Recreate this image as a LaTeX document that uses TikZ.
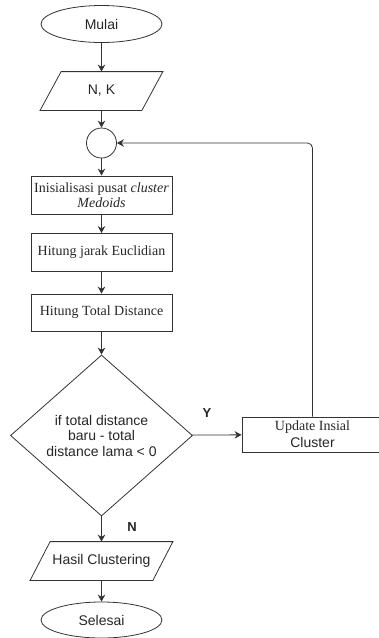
\documentclass[tikz,border=0pt]{standalone}
\usepackage{fontspec}
\setmainfont{Liberation Serif}
\newfontfamily\arialf{Liberation Sans}
\usetikzlibrary{shapes.geometric,arrows.meta}
\begin{document}
\begin{tikzpicture}[x=1pt,y=-1pt,
  line width=0.8pt,
  every node/.style={text=black!85},
  term/.style={draw=black!80, ellipse, minimum width=121, minimum height=37, inner sep=0, font=\arialf\fontsize{14}{16}\selectfont},
  iobox/.style={draw=none, minimum height=38, inner sep=0, font=\arialf\fontsize{14}{16}\selectfont},
  procbox/.style={draw=black!80, rectangle, minimum width=141, inner sep=0, align=center, font=\fontsize{14}{14.5}\selectfont},
  joint/.style={draw=black!80, circle, minimum size=30, inner sep=0},
  decision/.style={draw=black!80, diamond, minimum width=182, minimum height=161, inner sep=0, align=center, font=\arialf\fontsize{14}{15.5}\selectfont},
  lbl/.style={font=\arialf\bfseries\fontsize{13}{15}\selectfont},
  arr/.style={draw=black!80, -{Stealth[length=7, width=7.5]}}
]
\useasboundingbox (0,0) rectangle (379,638);
\clip (0,0) rectangle (379,638);

\node[term] (start) at (101.5,24) {Mulai};
\node[iobox, minimum width=101] (nk) at (101.5,91) {N, K};
\draw[draw=black!80] ([xshift=10.5]nk.north west) -- ([xshift=10.5]nk.north east)
  -- ([xshift=-10.5]nk.south east) -- ([xshift=-10.5]nk.south west) -- cycle;
\node[joint] (jn) at (101.5,143) {};
\node[procbox, minimum height=38] (init) at (101.5,195) {Inisialisasi pusat \textit{cluster}\\\textit{Medoids}};
\node[procbox, minimum height=38] (euc) at (101.5,252.5) {Hitung jarak Euclidian};
\node[procbox, minimum height=37] (tot) at (101.5,312.5) {Hitung Total Distance};
\node[decision] (dec) at (101.5,435.5) {if total distance\\baru - total\\distance lama < 0};
\node[procbox, minimum height=35, font=\fontsize{14}{17}\selectfont] (upd) at (312.5,434.5) {Update Insial\\{\arialf Cluster}};
\node[iobox, minimum width=122] (hasil) at (101.5,561) {Hasil Clustering};
\draw[draw=black!80] ([xshift=10]hasil.north west) -- ([xshift=10]hasil.north east)
  -- ([xshift=-10]hasil.south east) -- ([xshift=-10]hasil.south west) -- cycle;
\node[term, minimum height=36] (end) at (101.5,620) {Selesai};

\draw[arr] (start) -- (nk);
\draw[arr] (nk) -- (jn);
\draw[arr] (jn) -- (init);
\draw[arr] (init) -- (euc);
\draw[arr] (euc) -- (tot);
\draw[arr] (tot) -- (dec);
\draw[arr] (dec) -- (upd);
\draw[arr] (dec) -- (hasil);
\draw[arr] (hasil) -- (end);
\draw[arr, rounded corners=5] (upd.north) |- (jn.east);

\node[lbl] (ylbl) at (207,413) {Y};
\node[lbl] (nlbl) at (132,527) {N};
\end{tikzpicture}
\end{document}
